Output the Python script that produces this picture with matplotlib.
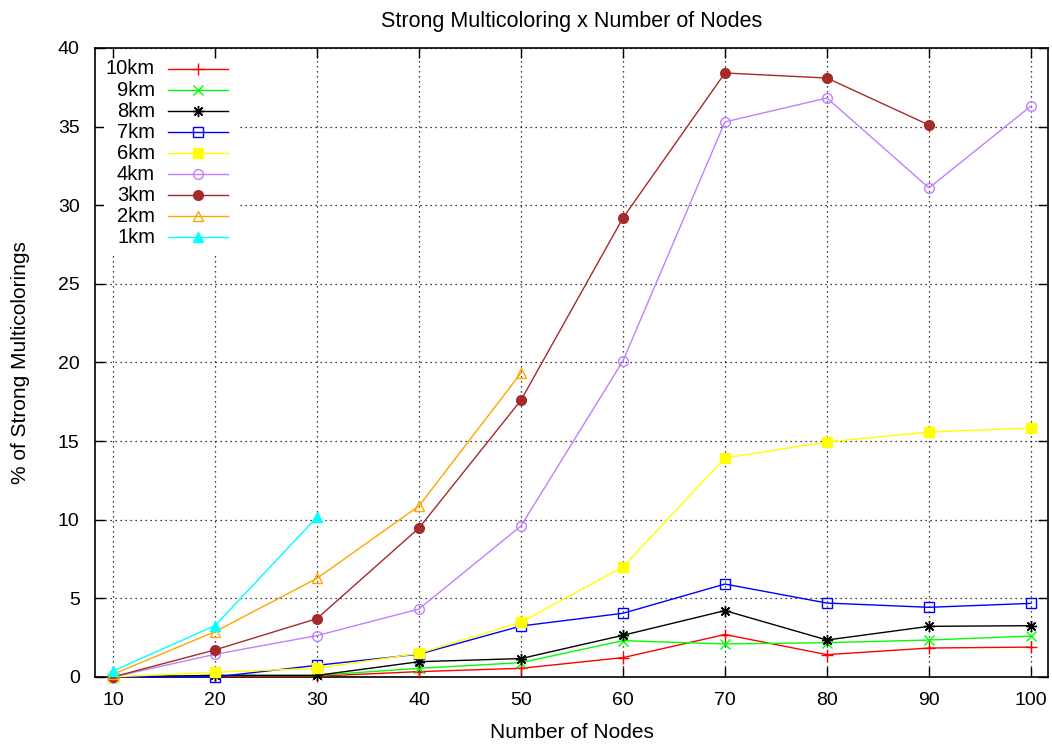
import matplotlib
matplotlib.use('Agg')
import matplotlib.pyplot as plt
from matplotlib.patches import Rectangle

matplotlib.rc('font', family='Liberation Sans', size=14)

nodes = [10, 20, 30, 40, 50, 60, 70, 80, 90, 100]

km10 = [0.0, 0.05, 0.05, 0.34, 0.55, 1.23, 2.7, 1.42, 1.84, 1.9]
km9 = [0.0, 0.1, 0.1, 0.55, 0.91, 2.31, 2.1, 2.18, 2.35, 2.6]
km8 = [0.0, 0.1, 0.1, 0.97, 1.17, 2.65, 4.22, 2.35, 3.22, 3.26]
km7 = [0.0, 0.0, 0.74, 1.45, 3.24, 4.05, 5.91, 4.7, 4.43, 4.68]
km6 = [0.0, 0.3, 0.55, 1.5, 3.48, 7.0, 13.93, 14.94, 15.58, 15.83]
km4 = [0.0, 1.44, 2.63, 4.32, 9.6, 20.1, 35.3, 36.82, 31.1, 36.31]
km3 = [0.0, 1.72, 3.71, 9.47, 17.6, 29.19, 38.41, 38.09, 35.1]
km2 = [0.17, 2.88, 6.27, 10.87, 19.33]
km1 = [0.38, 3.26, 10.17]

labels = ['10km', '9km', '8km', '7km', '6km', '4km', '3km', '2km', '1km']
series = [km10, km9, km8, km7, km6, km4, km3, km2, km1]
colors = ['#ff0000', '#00ff00', '#000000', '#0000ff', '#ffff00',
          '#c080ff', '#a52a2a', '#ffa500', '#00ffff']
markers = ['+', 'x', (8, 2, 0), 's', 's', 'o', 'o', '^', '^']
filled = [True, True, True, False, True, False, True, False, True]
msizes = [8, 7, 8, 7, 7, 7, 7, 7, 7]

fig = plt.figure(figsize=(10.52, 7.44), dpi=100)
ax = fig.add_axes([0.0903, 0.0901, 0.9059, 0.8454])

for vals, col, mk, fl, ms in zip(series, colors, markers, filled, msizes):
    ax.plot(nodes[:len(vals)], vals, color=col, lw=1.0, marker=mk,
            markersize=ms, markeredgewidth=1.0,
            markerfacecolor=col if fl else 'none', markeredgecolor=col,
            clip_on=False, zorder=3)

ax.set_xlim(8.24, 101.67)
ax.set_ylim(0, 40)
ax.set_xticks(nodes)
ax.set_yticks(range(0, 41, 5))
ax.tick_params(direction='in', top=True, right=True, length=7, width=1,
               labelsize=14, pad=11)
for s in ax.spines.values():
    s.set_linewidth(1.2)
ax.grid(True, color='black', linestyle=(0, (1, 3)), linewidth=0.9)

ax.set_title('Strong Multicoloring x Number of Nodes', fontsize=15.5, pad=15)
ax.set_xlabel('Number of Nodes', fontsize=15, labelpad=10)
ax.set_ylabel('% of Strong Multicolorings', fontsize=15, labelpad=20)

# gnuplot-style key: opaque box, labels right-aligned before samples
ax.add_patch(Rectangle((0.0094, 0.671), 0.143, 0.31, transform=ax.transAxes,
                       facecolor='white', edgecolor='none', zorder=2.6))
y0 = 0.9666
dy = 0.0334
for i, (lab, col, mk, fl, ms) in enumerate(zip(labels, colors, markers, filled, msizes)):
    yy = y0 - i * dy
    ax.plot([0.0766, 0.1396], [yy, yy], color=col, lw=1.0,
            transform=ax.transAxes, zorder=3, clip_on=False)
    ax.plot([0.1081], [yy], color=col, marker=mk, markersize=ms,
            markeredgewidth=1.0, markerfacecolor=col if fl else 'none',
            markeredgecolor=col, transform=ax.transAxes, zorder=3, clip_on=False)
    ax.text(0.063, yy, lab, ha='right', va='center', fontsize=14.5,
            transform=ax.transAxes, zorder=3)

plt.savefig('out.png', dpi=100)
